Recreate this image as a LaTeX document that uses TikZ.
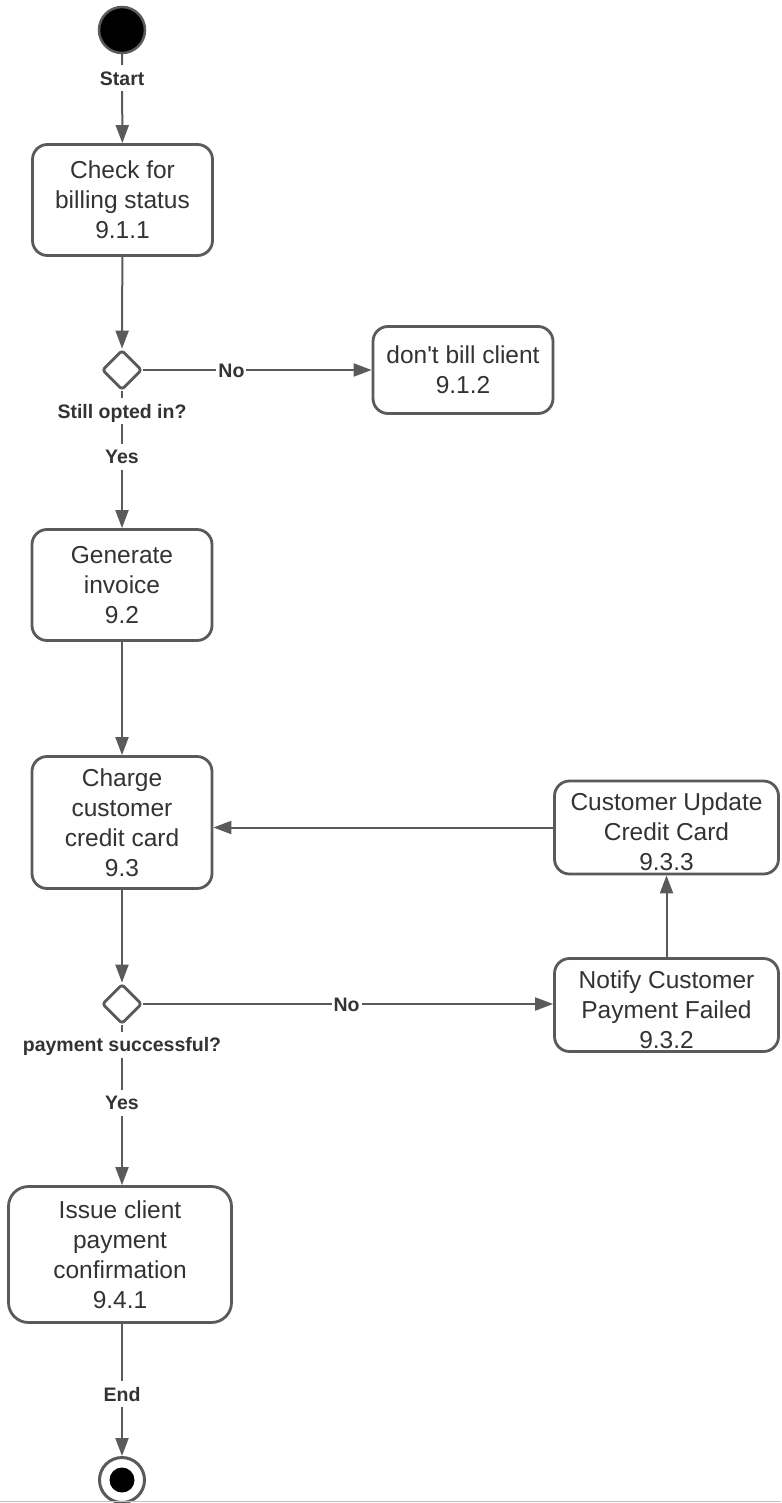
\documentclass[tikz,border=0pt]{standalone}
\usepackage{fontspec}
\setmainfont{Liberation Sans}[Ligatures=TeXOff]
\usetikzlibrary{shapes.geometric,arrows.meta}
\definecolor{ln}{RGB}{90,90,90}
\definecolor{tx}{RGB}{51,51,51}
\begin{document}
\begin{tikzpicture}[x=1pt,y=-1pt,
 box/.style={draw=ln,line width=2.8pt,rounded corners=15pt,fill=white,align=center,text=tx,font=\fontsize{24.5}{30}\selectfont,inner sep=0pt},
 dec/.style={shape=diamond,draw=ln,line width=2.8pt,rounded corners=3pt,minimum width=40pt,minimum height=40pt,inner sep=0pt,fill=white},
 con/.style={draw=ln,line width=2pt,-{Triangle[length=18pt,width=13pt]}},
 lbl/.style={fill=white,text=tx,font=\fontsize{19.5}{22}\selectfont\bfseries,inner xsep=2pt,inner ysep=6pt,text height=14pt,text depth=0pt}]
\useasboundingbox (0,0) rectangle (781,1503);
\fill[white] (0,0) rectangle (781,1503);
% nodes
\node[circle,draw=ln,line width=2.5pt,fill=black,minimum size=46pt,inner sep=0pt] (start) at (122,30) {};
\node[box,minimum width=180pt,minimum height=111pt] (b1) at (122.5,200) {Check for\\billing status\\9.1.1};
\node[dec] (d1) at (122,370) {};
\node[box,minimum width=180pt,minimum height=87pt] (b2) at (463,370) {don't bill client\\9.1.2};
\node[box,minimum width=180pt,minimum height=111pt] (b3) at (122,585) {Generate\\invoice\\9.2};
\node[box,minimum width=180pt,minimum height=132pt] (b4) at (122,822.5) {Charge\\customer\\credit card\\9.3};
\node[dec] (d2) at (122,1004) {};
\node[box,minimum width=224pt,minimum height=93pt] (b5) at (666.5,1005) {\rule{0pt}{28pt}Notify Customer\\Payment Failed\\9.3.2};
\node[box,minimum width=224pt,minimum height=93pt] (b6) at (666.5,827.5) {\rule{0pt}{27pt}Customer Update\\Credit Card\\9.3.3};
\node[box,rounded corners=20pt,minimum width=223pt,minimum height=136pt] (b7) at (120,1254.5) {Issue client\\payment\\confirmation\\9.4.1};
\node[circle,draw=ln,line width=3pt,fill=white,minimum size=45pt,inner sep=0pt] (endc) at (122,1480) {};
\node[circle,fill=black,minimum size=25pt,inner sep=0pt] (endin) at (endc.center) {};
% connectors
\draw[con] (start) -- node[lbl,pos=.27]{Start} (b1);
\draw[con] (b1) -- (d1);
\draw[con] (d1) -- node[lbl,pos=.386]{No} (b2);
\draw[con] (d1) -- node[lbl,pos=.145]{Still opted in?} node[lbl,pos=.479]{Yes} (b3);
\draw[con] (b3) -- (b4);
\draw[con] (b4) -- (d2);
\draw[con] (d2) -- node[lbl,pos=.496]{No} (d2.east -| b5.west);
\draw[con] (b5) -- (b6);
\draw[con] (b6.west) -- (b6.west -| b4.east);
\draw[con] (d2) -- node[lbl,pos=.122]{payment successful?} node[lbl,pos=.484]{Yes} (d2.south |- b7.north);
\draw[con] (endc |- b7.south) -- node[lbl,pos=.534]{End} (endc);
\draw[black!25,line width=1pt] (0,1501.5) -- (781,1501.5);
\end{tikzpicture}
\end{document}
